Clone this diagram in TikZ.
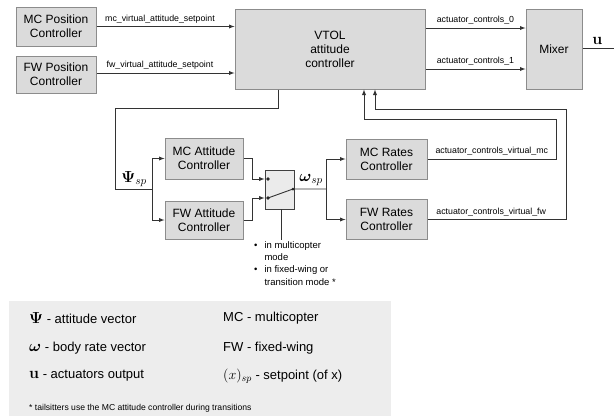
\RequirePackage{fix-cm}
\documentclass[tikz,border=0pt]{standalone}
\usepackage{amsmath}
\usepackage[no-math]{fontspec}
\setmainfont{Liberation Sans}
\usetikzlibrary{positioning}
\newcommand{\bPsi}{\boldsymbol{\Psi}}
\newcommand{\bomega}{\boldsymbol{\omega}}
\newcommand{\bu}{\mathbf{u}}
\newcommand{\lmath}[1]{{\fontsize{16}{16}\selectfont$#1$}}

\begin{document}
\begin{tikzpicture}[x=1pt,y=-1pt]
\tikzstyle{block}=[rectangle, draw=black!45, fill=black!14, line width=1pt, inner sep=0pt, align=center, font=\fontsize{12}{14}\selectfont]
\tikzstyle{connect}=[-latex, line width=0.9pt, draw=black!80]
\tikzstyle{wire}=[line width=0.9pt, draw=black!80]
\tikzstyle{sig}=[font=\fontsize{8.8}{10}\selectfont, inner sep=2pt]
\tikzstyle{legend}=[anchor=west, inner sep=0pt, font=\fontsize{13}{15}\selectfont]
\useasboundingbox (0,0) rectangle (614,416);
  % blocks
  \node[block, minimum width=80pt, minimum height=39pt] (mcpos) at (56,26.5) {MC Position\\Controller};
  \node[block, minimum width=80pt, minimum height=37pt] (fwpos) [below=9pt of mcpos] {FW Position\\Controller};
  \node[block, minimum width=190pt, minimum height=80pt] (vtol) at (330,49) {VTOL\\attitude\\controller};
  \node[block, minimum width=56pt, minimum height=80pt] (mixer) [right=100pt of vtol] {Mixer};
  \node[block, minimum width=78pt, minimum height=41pt] (mcatt) at (204,158.5) {MC Attitude\\Controller};
  \node[block, minimum width=78pt, minimum height=38pt] (fwatt) [below=21pt of mcatt] {FW Attitude\\Controller};
  \node[rectangle, draw=black!75, fill=black!8, line width=0.9pt, minimum width=29pt, minimum height=39pt, inner sep=0pt] (sw) at (279.5,189.5) {};
  \node[block, minimum width=81pt, minimum height=40pt] (mcrate) at (386.5,159) {MC Rates\\Controller};
  \node[block, minimum width=81pt, minimum height=40pt] (fwrate) [below=19.5pt of mcrate] {FW Rates\\Controller};

  % position setpoints and actuator controls
  \draw[connect] (mcpos.east) -- node[sig, above=1pt, pos=0.46] {mc\_virtual\_attitude\_setpoint} (mcpos.east -| vtol.west);
  \draw[connect] ([yshift=1.5pt]fwpos.east) -- node[sig, above=1pt, pos=0.46] {fw\_virtual\_attitude\_setpoint} ([yshift=1.5pt]fwpos.east -| vtol.west);
  \draw[connect] ([yshift=21pt]vtol.east) -- node[sig, above=1pt] {actuator\_controls\_0} ([yshift=21pt]vtol.east -| mixer.west);
  \draw[connect] ([yshift=-20pt]vtol.east) -- node[sig, above=1pt] {actuator\_controls\_1} ([yshift=-20pt]vtol.east -| mixer.west);
  \coordinate (uout) at (614,48);
  \draw[wire] (mixer.east |- uout) -- node[above=0pt, xshift=-1pt] {\lmath{\bu}} (uout);

  % attitude setpoint
  \coordinate (psib) at (152,189);
  \draw[wire] ([xshift=-52pt]vtol.south) |- (115,108) |- (psib);
  \draw[connect] (psib) |- (mcatt.west);
  \draw[connect] (psib) |- (fwatt.west);
  \node (psisp) at (134,179) {\lmath{\bPsi_{sp}}};

  % switch
  \coordinate (dmc) at (268,179);
  \coordinate (dfw) at (268,198);
  \coordinate (swo) at (293,189);
  \coordinate (omb) at (326,189);
  \draw[connect] (mcatt.east) -- ++(9,0) |- (sw.west |- dmc);
  \draw[connect] (fwatt.east) -- ++(9,0) |- (sw.west |- dfw);
  \draw[wire] (dfw) -- (swo) -- (omb);
  \fill[black!85] (dmc) circle (1.8pt) (dfw) circle (1.8pt) (swo) circle (1.5pt);
  \node (omsp) at (311,180) {\lmath{\bomega_{sp}}};
  \draw[connect] (omb) |- (mcrate.west);
  \draw[connect] (omb) |- (fwrate.west);
  \coordinate (swnote) at (281,240);
  \draw[black!80, line width=0.7pt] (sw.south -| swnote) -- (swnote);
  \node[anchor=north west, inner sep=0pt, font=\fontsize{9.5}{12.3}\selectfont] (modes) at (254,239.5)
    {\begin{tabular}{@{}l@{\hspace{7pt}}l@{}}\textbullet&in multicopter\\&mode\\\textbullet&in fixed-wing or\\&transition mode *\end{tabular}};

  % virtual actuator controls back to VTOL
  \coordinate (vmc) at (556,119);
  \coordinate (vfw) at (566,109);
  \draw[connect] (mcrate.east) -| node[sig, above=1pt, pos=0.25] {actuator\_controls\_virtual\_mc} (vmc) -| ([xshift=34pt]vtol.south);
  \draw[connect] (fwrate.east) -| node[sig, above=1pt, pos=0.23] {actuator\_controls\_virtual\_fw} (vfw) -| ([xshift=45pt]vtol.south);

  % legend
  \fill[black!7] (9,301) rectangle (391,416);
  \node[legend] (lpsi) at (29,318) {\lmath{\bPsi} - attitude vector};
  \node[legend] (lomega) at (29,348) {\lmath{\bomega} - body rate vector};
  \node[legend] (lu) at (29,376) {\lmath{\bu} - actuators output};
  \node[legend] (lmc) at (223,318) {MC - multicopter};
  \node[legend] (lfw) at (223,348) {FW - fixed-wing};
  \node[legend] (lsp) at (223,376) {{\fontsize{14}{14}\selectfont$(x)_{sp}$} - setpoint (of x)};
  \node[anchor=west, inner sep=0pt, font=\fontsize{8.6}{10}\selectfont] (note) at (29,408) {* tailsitters use the MC attitude controller during transitions};
\end{tikzpicture}
\end{document}
